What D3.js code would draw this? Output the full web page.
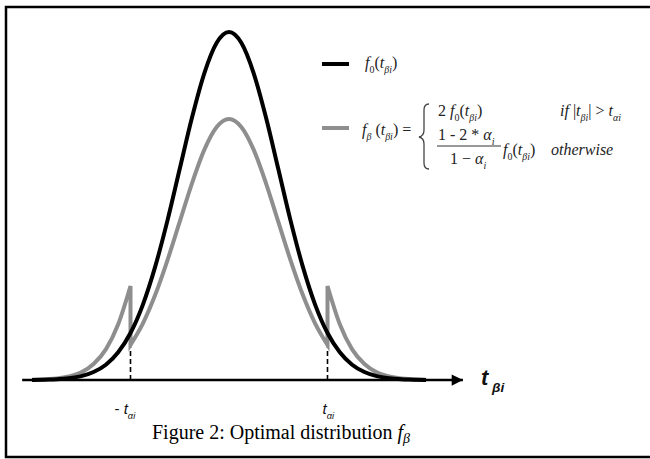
<!DOCTYPE html>
<html>
<head>
<meta charset="utf-8">
<script src="https://cdn.jsdelivr.net/npm/d3@7"></script>
<style>
  body { margin: 0; background: #fff; }
</style>
</head>
<body>
<div class="canvas"></div>
<script>
// t in units of sigma (peak of f0 = 1)
const tValues = [-4, -3.75, -3.5, -3.25, -3, -2.75, -2.5, -2.25, -2, -1.75, -1.5, -1.25, -1, -0.75, -0.5, -0.25,
                 0, 0.25, 0.5, 0.75, 1, 1.25, 1.5, 1.75, 2, 2.25, 2.5, 2.75, 3, 3.25, 3.5, 3.75, 4]
const f0Values = [0.000, 0.001, 0.002, 0.005, 0.011, 0.023, 0.044, 0.080, 0.135, 0.216, 0.325, 0.458, 0.607, 0.755, 0.882, 0.969,
                  1.000, 0.969, 0.882, 0.755, 0.607, 0.458, 0.325, 0.216, 0.135, 0.080, 0.044, 0.023, 0.011, 0.005, 0.002, 0.001, 0.000]

// f_beta has a jump at +/- t_alpha, so t = -2 and t = 2 appear twice
const fBetaT = [-4, -3.75, -3.5, -3.25, -3, -2.75, -2.5, -2.25, -2, -2, -1.75, -1.5, -1.25, -1, -0.75, -0.5, -0.25,
                0, 0.25, 0.5, 0.75, 1, 1.25, 1.5, 1.75, 2, 2, 2.25, 2.5, 2.75, 3, 3.25, 3.5, 3.75, 4]
const fBetaValues = [0.001, 0.002, 0.004, 0.010, 0.022, 0.046, 0.088, 0.160, 0.270, 0.101, 0.162, 0.244, 0.344, 0.455, 0.566, 0.662, 0.727,
                     0.750, 0.727, 0.662, 0.566, 0.455, 0.344, 0.244, 0.162, 0.101, 0.270, 0.160, 0.088, 0.046, 0.022, 0.010, 0.004, 0.002, 0.001]

const tAlpha = 2
const axisExtent = [-4.2, 4.75]
const captionText = 'Figure 2: Optimal distribution '

const dims = { width: 650, height: 459 }
const serif = '"Liberation Serif", "Times New Roman", serif'
const sans = '"Liberation Sans", Arial, sans-serif'

const svg = d3.select('.canvas')
              .append('svg')
              .attr('width', dims.width)
              .attr('height', dims.height)

// frame round the figure (right edge falls outside the picture)
svg.append('rect')
   .attr('x', 6).attr('y', 7)
   .attr('width', 650).attr('height', 450)
   .attr('fill', 'none')
   .attr('stroke', '#000')
   .attr('stroke-width', 2.5)

const x = d3.scaleLinear().domain([-4, 4]).range([32, 426])
const y = d3.scaleLinear().domain([0, 1]).range([380, 32])

const line = d3.line()
               .x(d => x(d[0]))
               .y(d => y(d[1]))
               .curve(d3.curveMonotoneX)

//axis with arrow
svg.append('defs').append('marker')
   .attr('id', 'arrow')
   .attr('viewBox', '0 0 10 10')
   .attr('refX', 10).attr('refY', 5)
   .attr('markerWidth', 8).attr('markerHeight', 4.5)
   .attr('markerUnits', 'strokeWidth')
   .attr('orient', 'auto')
   .append('path')
   .attr('d', 'M0,0 L10,5 L0,10 Z')
   .attr('fill', '#000')

svg.append('line')
   .attr('x1', x(axisExtent[0])).attr('x2', x(axisExtent[1]))
   .attr('y1', y(0)).attr('y2', y(0))
   .attr('stroke', '#000')
   .attr('stroke-width', 2.5)
   .attr('marker-end', 'url(#arrow)')

// dashed guides at +/- t_alpha
const innerAt = t => fBetaValues[fBetaT.indexOf(t) + (t < 0 ? 1 : 0)]
svg.selectAll('.guide')
   .data([-tAlpha, tAlpha])
   .enter().append('line')
   .attr('class', 'guide')
   .attr('x1', d => x(d)).attr('x2', d => x(d))
   .attr('y1', y(0)).attr('y2', d => y(innerAt(d)))
   .attr('stroke', '#000')
   .attr('stroke-width', 1.6)
   .attr('stroke-dasharray', '5,3')

// gray f_beta: split into pieces at the jumps and join them
const betaPts = fBetaT.map((t, i) => [t, fBetaValues[i]])
const pieces = [[betaPts[0]]]
for (let i = 1; i < betaPts.length; i++) {
  if (betaPts[i][0] === betaPts[i - 1][0]) pieces.push([])
  pieces[pieces.length - 1].push(betaPts[i])
}
const betaPath = pieces.map((p, i) => i === 0 ? line(p) : line(p).replace(/^M/, 'L')).join('')

svg.append('path')
   .attr('d', betaPath)
   .attr('fill', 'none')
   .attr('stroke', '#8e8e8e')
   .attr('stroke-width', 4)
   .attr('stroke-linejoin', 'miter')

svg.append('path')
   .attr('d', line(tValues.map((t, i) => [t, f0Values[i]])))
   .attr('fill', 'none')
   .attr('stroke', '#000')
   .attr('stroke-width', 4)

// text helper: parts are [string, style] where style is n, i, sub, isub
const mathText = (x0, y0, parts, size, color, family) => {
  const txt = svg.append('text')
                 .attr('x', x0).attr('y', y0)
                 .attr('font-family', family || serif)
                 .attr('font-size', size)
                 .attr('fill', color || '#222')
  let shifted = false
  parts.forEach(([s, st]) => {
    const sp = txt.append('tspan').text(s)
    const isSub = st === 'sub' || st === 'isub'
    if (isSub && !shifted) { sp.attr('dy', size * 0.3); shifted = true }
    if (!isSub && shifted) { sp.attr('dy', -size * 0.3); shifted = false }
    if (isSub) sp.attr('font-size', size * 0.62)
    if (st === 'i' || st === 'isub') sp.attr('font-style', 'italic')
  })
  return txt
}

const f0Parts = [['f', 'i'], ['0', 'sub'], ['(', 'n'], ['t', 'i'], ['β', 'isub'], ['i', 'isub'], [')', 'n']]

// legend
svg.append('line').attr('x1', 322).attr('x2', 349).attr('y1', 64).attr('y2', 64)
   .attr('stroke', '#000').attr('stroke-width', 4)
svg.append('line').attr('x1', 322).attr('x2', 349).attr('y1', 128).attr('y2', 128)
   .attr('stroke', '#8e8e8e').attr('stroke-width', 4)

mathText(365, 68, f0Parts, 16)
mathText(362, 135, [['f', 'i'], ['β', 'isub'], [' (', 'n'], ['t', 'i'], ['β', 'isub'], ['i', 'isub'], [') =', 'n']], 16)

// brace
const bx = 424
svg.append('path')
   .attr('d', `M${bx + 5},104 Q${bx},104 ${bx},110 L${bx},130 Q${bx},136 ${bx - 5},137 Q${bx},138 ${bx},144 L${bx},163 Q${bx},169 ${bx + 5},169`)
   .attr('fill', 'none').attr('stroke', '#444').attr('stroke-width', 1.3)

mathText(438, 116, [['2 ', 'n']].concat(f0Parts), 16)
mathText(560, 116, [['if  ', 'i'], ['|', 'n'], ['t', 'i'], ['β', 'isub'], ['i', 'isub'], ['| > ', 'n'], ['t', 'i'], ['α', 'isub'], ['i', 'isub']], 16)
mathText(438, 140, [['1 - 2 * ', 'n'], ['α', 'i'], ['i', 'isub']], 16)
svg.append('line').attr('x1', 437).attr('x2', 501).attr('y1', 146).attr('y2', 146)
   .attr('stroke', '#333').attr('stroke-width', 1)
mathText(450, 164, [['1 − ', 'n'], ['α', 'i'], ['i', 'isub']], 16)
mathText(503, 155, f0Parts, 16)
mathText(551, 155, [['otherwise', 'i']], 16)

// tick labels under the guides
mathText(x(-tAlpha) - 16, 414, [['- ', 'n'], ['t', 'i'], ['αi', 'isub']], 15, '#111', sans)
mathText(x(tAlpha) - 5, 414, [['t', 'i'], ['αi', 'isub']], 15, '#111', sans)

// axis title
mathText(x(axisExtent[1]) + 18, 385, [['t', 'i'], ['  βi', 'isub']], 22, '#111', sans)
   .style('font-weight', 'bold')

// caption
const cap = svg.append('text')
               .attr('x', 281).attr('y', 439)
               .attr('text-anchor', 'middle')
               .attr('font-family', serif)
               .attr('font-size', 20)
               .attr('fill', '#000')
cap.append('tspan').text(captionText)
cap.append('tspan').attr('font-style', 'italic').text('f')
cap.append('tspan').attr('font-style', 'italic').attr('font-size', 14).attr('dy', 4).text('β')
</script>
</body>
</html>
